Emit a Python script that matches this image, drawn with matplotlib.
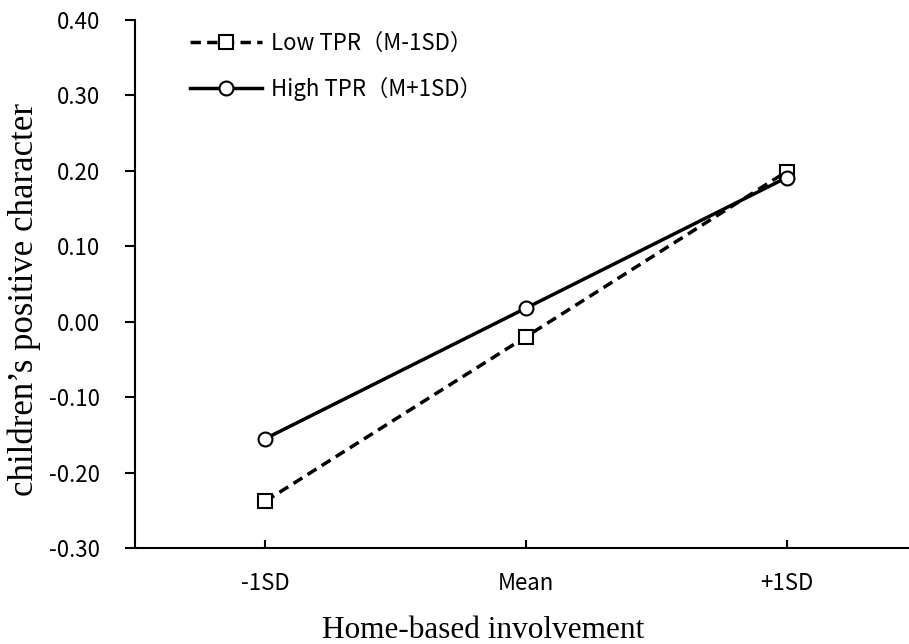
import matplotlib.pyplot as plt
import numpy as np

# data
groups = ["-1SD", "Mean", "+1SD"]
low_tpr = [-0.238, -0.020, 0.199]
high_tpr = [-0.155, 0.018, 0.191]
y_ticks = [-0.30, -0.20, -0.10, 0.00, 0.10, 0.20, 0.30, 0.40]

sans = ['Noto Sans CJK SC', 'DejaVu Sans']
serif = ['Liberation Serif', 'DejaVu Serif']

fig = plt.figure(figsize=(9.09, 6.44), dpi=100)
ax = fig.add_axes([135 / 909, 96 / 644, 774 / 909, 528 / 644])

x = np.arange(len(groups))

ax.plot(x, low_tpr, color='black', lw=2.5, dashes=(3.0, 1.8),
        marker='s', ms=10, mfc='white', mec='black', mew=1.5,
        label='Low TPR（M-1SD）', zorder=3)
ax.plot(x, high_tpr, color='black', lw=2.5, ls='-',
        marker='o', ms=10, mfc='white', mec='black', mew=1.5,
        label='High TPR（M+1SD）', zorder=3)

ax.set_xlim(-0.5, 2.47)
ax.set_ylim(-0.30, 0.40)
ax.set_xticks(x, groups)
ax.set_yticks(y_ticks, [f"{v:.2f}" for v in y_ticks])

for s in ['top', 'right']:
    ax.spines[s].set_visible(False)
for s in ['left', 'bottom']:
    ax.spines[s].set_linewidth(1.5)

ax.tick_params(axis='y', direction='out', length=7, width=1.5, pad=18, labelsize=16)
ax.tick_params(axis='x', direction='in', length=6, width=1.5, pad=17, labelsize=16)
for lab in ax.get_xticklabels() + ax.get_yticklabels():
    lab.set_family(sans)

fig.text(24 / 909, 1 - 299 / 644, "children’s positive character", family=serif,
         fontsize=25, rotation=90, ha='center', va='center')
fig.text(483 / 909, 1 - 630 / 644, "Home-based involvement", family=serif,
         fontsize=22.5, ha='center', va='center')

leg = fig.legend(*ax.get_legend_handles_labels(), loc='upper left',
                 bbox_to_anchor=(190 / 909, 1 - 32 / 644), frameon=False,
                 borderpad=0, borderaxespad=0,
                 handlelength=3.25, handletextpad=0.4, labelspacing=1.0,
                 numpoints=1, prop={'family': sans, 'size': 16})

fig.savefig('out.png', dpi=100)
